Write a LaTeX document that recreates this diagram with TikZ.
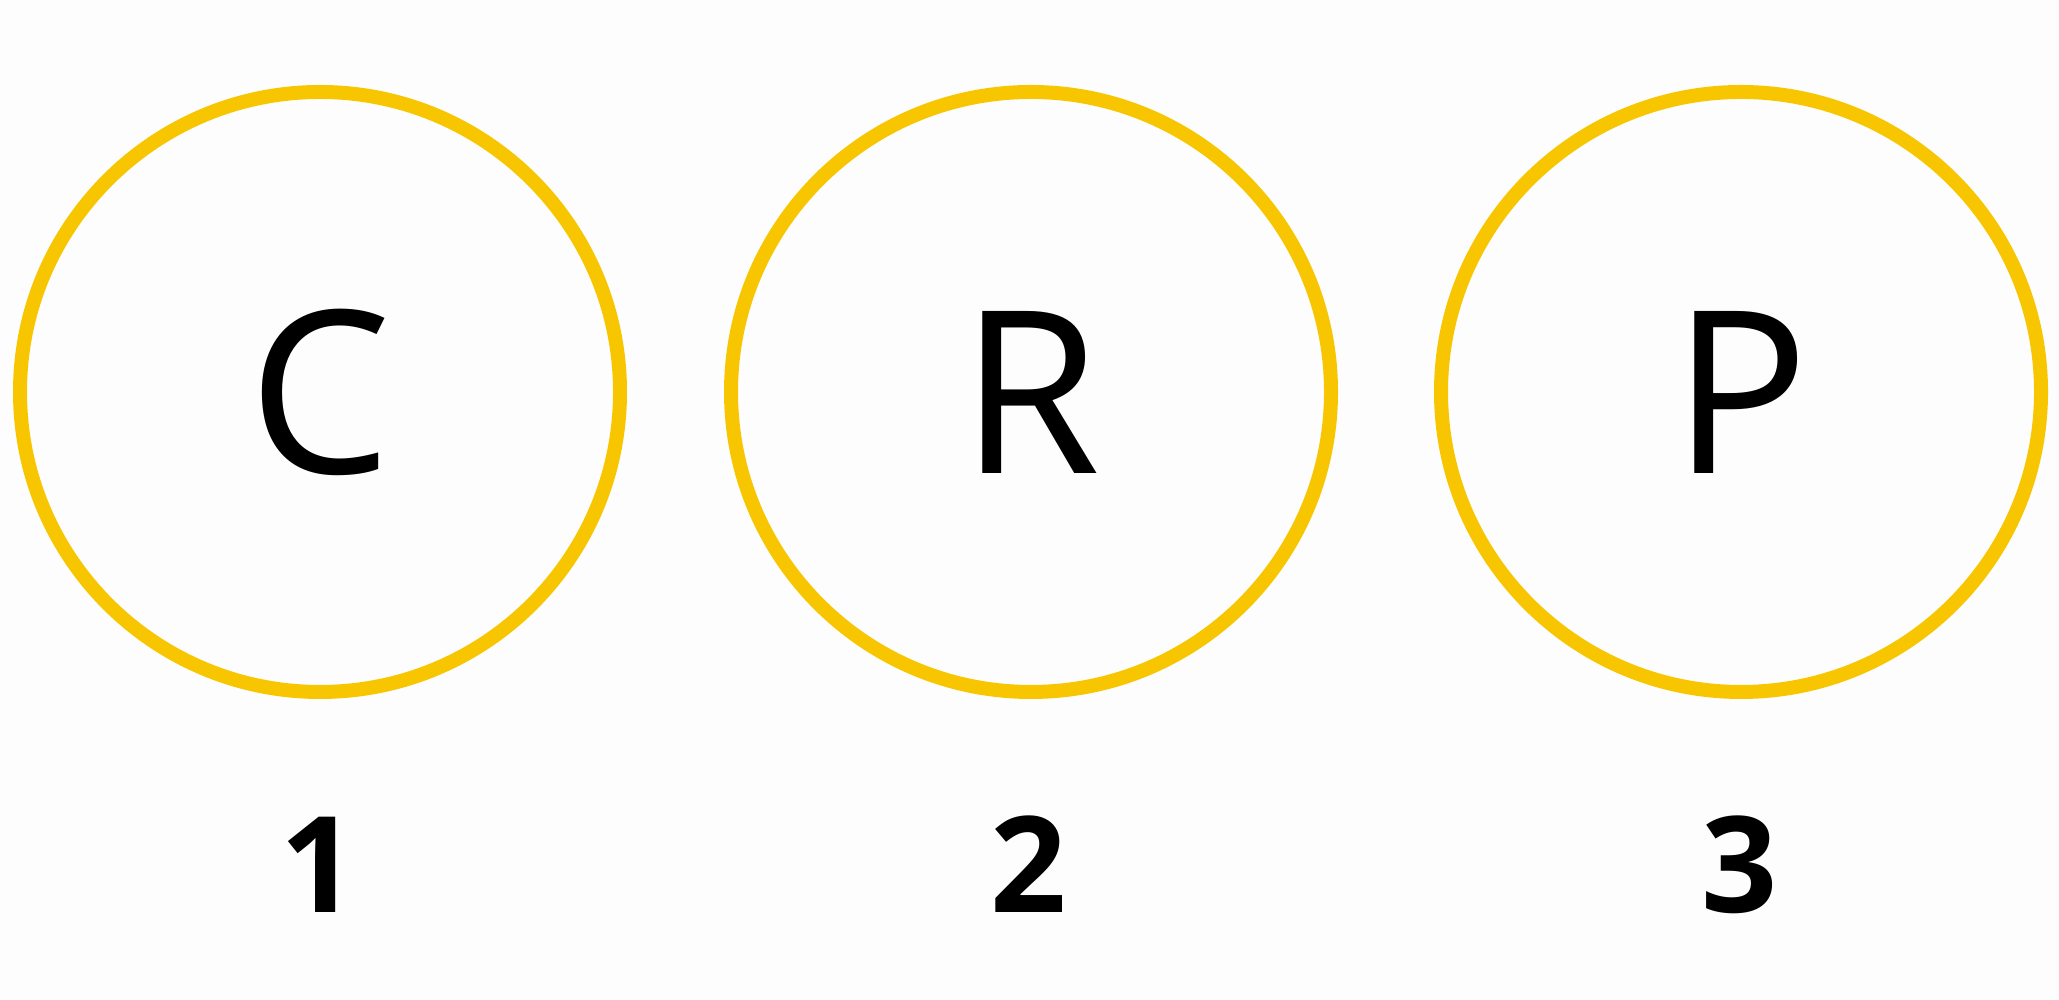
\documentclass[tikz,border=0pt]{standalone}
\usepackage{fontspec}
\setmainfont{Open Sans}
\definecolor{ringgold}{RGB}{247,198,0}
\definecolor{paper}{RGB}{253,253,253}
\tikzset{
  ring/.style={circle, draw=ringgold, line width=3.98pt, minimum size=6cm, inner sep=0pt,
    font=\fontsize{64.6}{70}\selectfont},
  digit/.style={anchor=base, inner sep=0pt, font=\fontsize{38}{42}\selectfont\bfseries}
}
\begin{document}
\begin{tikzpicture}
\useasboundingbox[fill=paper] (0,0) rectangle (20.59,10);

\node[ring] (c) at (3.20,6.08) {C};
\node[ring] (r) at (10.31,6.08) {R};
\node[ring] (p) at (17.41,6.08) {P};

\node[digit] (one) at (3.19,0.87) {1};
\node[digit] (two) at (10.29,0.87) {2};
\node[digit] (three) at (17.40,0.87) {3};
\end{tikzpicture}
\end{document}
